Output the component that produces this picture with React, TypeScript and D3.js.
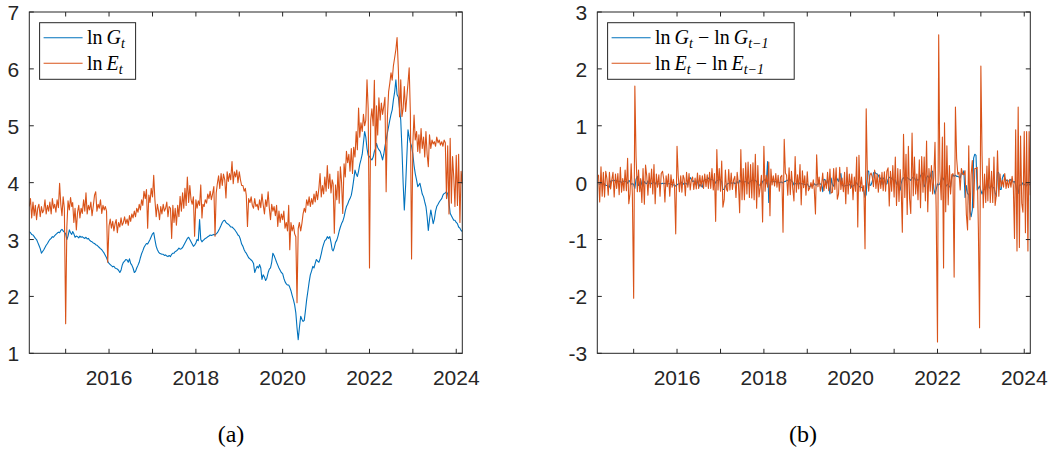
import React from "react";
import * as d3 from "d3";

// Sampling days inside each month (roughly every ten days)
const SAMPLE_DAYS = [1, 11, 21];
const START_YEAR = 2014;
const START_MONTH = 2; // March

// ln G_t, Mar 2014 .. Feb 2024, three samples per month
const lnG = [
  // 2014 (Mar-Dec)
  3.14, 3.12, 3.09, 3.08, 3.05, 3.02, 3.0, 2.95, 2.9, 2.84, 2.76, 2.79,
  2.82, 2.86, 2.9, 2.93, 2.97, 3.0, 3.02, 3.05, 3.04, 3.07, 3.09, 3.11,
  3.13, 3.12, 3.16, 3.18, 3.15, 3.13,
  // 2015
  3.1, 3.0, 3.06, 3.17, 3.12, 3.09, 3.14, 3.1, 3.04, 3.06, 3.05, 3.03,
  3.06, 3.04, 3.05, 3.03, 3.02, 3.04, 3.01, 3.02, 2.99, 2.97, 2.96, 2.94,
  2.93, 2.91, 2.9, 2.88, 2.86, 2.84, 2.82, 2.79, 2.76, 2.72, 2.68, 2.62,
  // 2016
  2.58, 2.56, 2.54, 2.52, 2.53, 2.5, 2.49, 2.48, 2.46, 2.42, 2.46, 2.55,
  2.6, 2.62, 2.65, 2.64, 2.6, 2.66, 2.58, 2.55, 2.5, 2.42, 2.44, 2.5,
  2.55, 2.6, 2.68, 2.75, 2.8, 2.86, 2.9, 2.93, 2.92, 2.96, 3.0, 3.05,
  // 2017
  3.1, 3.12, 3.0, 2.88, 2.82, 2.78, 2.76, 2.75, 2.74, 2.74, 2.72, 2.73,
  2.71, 2.7, 2.72, 2.7, 2.74, 2.76, 2.76, 2.79, 2.8, 2.82, 2.85, 2.83,
  2.84, 2.86, 2.9, 2.94, 2.98, 3.02, 3.04, 3.0, 2.96, 2.92, 2.88, 2.9,
  // 2018
  2.94, 3.0, 2.98, 3.35, 3.0, 2.96, 2.98, 3.0, 3.02, 3.03, 3.05, 3.06,
  3.08, 3.07, 3.08, 3.09, 3.08, 3.1, 3.12, 3.16, 3.2, 3.25, 3.3, 3.33,
  3.34, 3.3, 3.28, 3.27, 3.25, 3.22, 3.22, 3.2, 3.18, 3.15, 3.12, 3.08,
  // 2019
  3.06, 3.0, 2.92, 2.88, 2.82, 2.78, 2.76, 2.72, 2.68, 2.66, 2.64, 2.62,
  2.58, 2.42, 2.48, 2.53, 2.5, 2.56, 2.5, 2.3, 2.38, 2.34, 2.28, 2.32,
  2.42, 2.48, 2.5, 2.6, 2.76, 2.72, 2.66, 2.6, 2.55, 2.5, 2.46, 2.42,
  // 2020
  2.4, 2.32, 2.26, 2.22, 2.2, 2.2, 2.16, 2.1, 2.02, 1.94, 1.85, 1.71,
  1.45, 1.24, 1.45, 1.65, 1.6, 1.56, 1.58, 1.75, 1.94, 2.1, 2.25, 2.38,
  2.45, 2.53, 2.5, 2.58, 2.65, 2.62, 2.6, 2.66, 2.75, 2.85, 2.92, 2.98,
  // 2021
  3.0, 3.05, 3.02, 3.05, 2.95, 2.82, 2.8, 2.86, 2.95, 2.99, 3.06, 3.15,
  3.22, 3.28, 3.32, 3.4, 3.5, 3.58, 3.62, 3.68, 3.72, 3.78, 3.9, 4.05,
  4.22, 4.15, 4.11, 4.2, 4.32, 4.4, 4.5, 4.7, 4.9, 4.8, 4.6, 4.48,
  // 2022
  4.46, 4.42, 4.4, 4.45, 4.55, 4.6, 4.69, 4.62, 4.58, 4.55, 4.48, 4.4,
  4.5, 4.64, 4.75, 4.88, 4.99, 5.1, 5.2, 5.28, 5.45, 5.6, 5.81, 5.55,
  5.5, 5.3, 5.1, 4.6, 4.0, 3.52, 3.95, 4.45, 4.93, 4.8, 4.7, 4.64,
  // 2023
  4.5, 4.3, 4.16, 4.05, 3.93, 3.96, 3.99, 3.9, 3.8, 3.75, 3.66, 3.58,
  3.4, 3.16, 3.35, 3.52, 3.4, 3.28, 3.36, 3.5, 3.58, 3.62, 3.66, 3.69,
  3.72, 3.78, 3.81, 3.82, 3.84, 3.8, 3.65, 3.46, 3.42, 3.38, 3.34, 3.34,
  // 2024 (Jan-Feb)
  3.3, 3.28, 3.22, 3.2, 3.16, 3.14,
];

// ln E_t, same sampling
const lnE = [
  // 2014 (Mar-Dec)
  3.58, 3.72, 3.38, 3.66, 3.42, 3.6, 3.35, 3.55, 3.62, 3.4, 3.58, 3.47,
  3.52, 3.7, 3.45, 3.6, 3.5, 3.66, 3.45, 3.72, 3.55, 3.62, 3.48, 3.7,
  3.56, 3.99, 3.62, 3.42, 3.75, 3.55,
  // 2015
  1.52, 3.22, 3.68, 3.52, 3.74, 3.58, 3.65, 3.3, 3.55, 3.17, 3.48, 3.6,
  3.38, 3.55, 3.46, 3.7, 3.5, 3.82, 3.45, 3.6, 3.52, 3.66, 3.42, 3.58,
  3.78, 3.84, 3.5, 3.62, 3.55, 3.7, 3.46, 3.6, 3.52, 3.58, 3.5, 2.6,
  // 2016
  3.24, 3.36, 3.2, 3.32, 3.15, 3.28, 3.35, 3.12, 3.3, 3.22, 3.38, 3.25,
  3.3, 3.4, 3.28, 3.36, 3.25, 3.42, 3.32, 3.45, 3.38, 3.5, 3.4, 3.55,
  3.48, 3.62, 3.52, 3.7, 3.6, 3.85, 3.72, 3.88, 3.2, 3.78, 3.65, 3.9,
  // 2017
  3.75, 4.13, 3.7, 3.4, 3.62, 3.5, 3.35, 3.58, 3.45, 3.62, 3.5, 3.55,
  3.66, 3.4, 3.58, 3.55, 3.02, 3.6, 3.3, 3.55, 3.25, 3.6, 3.4, 3.76,
  3.5, 3.82, 3.55, 3.9, 3.6, 4.1, 3.65, 3.95, 3.7, 3.62, 3.75, 3.06,
  // 2018
  3.7, 3.55, 3.68, 3.6, 3.96, 3.38, 3.62, 3.58, 3.7, 3.64, 3.8, 3.72,
  3.85, 3.7, 3.8, 3.93, 3.06, 3.82, 3.99, 4.12, 3.9, 4.16, 3.95, 4.15,
  4.05, 3.73, 4.19, 4.02, 4.16, 4.05, 4.37, 3.98, 4.19, 4.1, 4.22, 4.0,
  // 2019
  4.19, 4.05, 3.95, 3.95, 3.85, 3.9, 3.78, 3.23, 3.72, 3.65, 3.75, 3.6,
  3.55, 3.72, 3.58, 3.62, 3.52, 3.7, 3.56, 3.8, 3.62, 3.45, 3.7, 3.58,
  3.84, 3.55, 3.35, 3.62, 3.5, 3.58, 3.42, 3.6, 3.23, 3.5, 3.3, 3.45,
  // 2020
  3.35, 3.5, 3.2, 3.3, 3.15, 3.6, 2.82, 3.3, 3.15, 3.25, 3.1, 3.05,
  1.89, 3.19, 3.3, 3.15, 3.28, 3.45, 3.55, 3.48, 3.7, 3.6, 3.75, 3.58,
  3.72, 3.62, 3.8, 3.66, 3.85, 3.7, 3.9, 4.16, 3.75, 3.95, 3.8, 4.1,
  // 2021
  3.85, 4.3, 3.9, 4.15, 3.82, 4.05, 3.98, 3.11, 3.96, 3.7, 4.2, 3.64,
  4.28, 4.0, 3.46, 4.33, 4.1, 4.55, 4.35, 4.5, 4.2, 4.6, 4.16, 4.62,
  4.45, 4.9, 4.58, 5.31, 4.8, 5.05, 4.9, 5.2, 5.0, 5.1, 5.81, 5.3,
  // 2022
  2.5, 5.1, 5.3, 5.0, 5.8, 4.3, 5.35, 4.84, 5.49, 5.1, 5.4, 5.2,
  5.34, 5.5, 3.84, 5.17, 5.6, 5.75, 5.93, 5.8, 6.05, 6.2, 6.34, 6.55,
  5.99, 5.16, 5.81, 5.16, 5.3, 5.69, 5.25, 5.5, 5.75, 6.02, 5.21, 2.66,
  // 2023
  4.71, 5.19, 4.75, 4.9, 4.55, 4.84, 4.52, 4.95, 4.6, 4.8, 4.45, 4.9,
  4.5, 4.28, 4.84, 4.6, 4.75, 4.68, 4.72, 4.64, 4.8, 4.7, 4.75, 4.66,
  4.72, 4.64, 4.75, 4.7, 3.72, 4.65, 3.45, 4.78, 3.64, 4.46, 4.1, 3.58,
  // 2024 (Jan-Feb)
  4.48, 3.6, 4.5, 3.3, 4.2, 3.98,
];

const levelTicks = [1, 2, 3, 4, 5, 6, 7];
const returnTicks = [-3, -2, -1, 0, 1, 2, 3];
const tickYears = [2015, 2016, 2017, 2018, 2019, 2020, 2021, 2022, 2023, 2024];
const labelYears = [2016, 2018, 2020, 2022, 2024];

const BLUE = "#0072BD";
const ORANGE = "#D95319";
const AXIS = "#262626";
const SANS = "'Liberation Sans', Arial, Helvetica, sans-serif";
const SERIF = "'Liberation Serif', 'Times New Roman', serif";

const dates = lnG.map(
  (_, i) => new Date(START_YEAR, START_MONTH + Math.floor(i / 3), SAMPLE_DAYS[i % 3])
);

type Pt = { d: Date; v: number };

const levelsG: Pt[] = lnG.map((v, i) => ({ d: dates[i], v }));
const levelsE: Pt[] = lnE.map((v, i) => ({ d: dates[i], v }));
const diff = (arr: number[]): Pt[] =>
  arr.slice(1).map((v, i) => ({ d: dates[i + 1], v: v - arr[i] }));
const returnsG = diff(lnG);
const returnsE = diff(lnE);

const PLOT_TOP = 12;
const PLOT_BOTTOM = 353.3;
const PLOT_W = 433;
const TICK = 4.5;
const TICK_FONT = 21;

type LegendPiece = { t: string; it?: boolean; sub?: boolean };

function LegendLabel({ x, y, pieces }: { x: number; y: number; pieces: LegendPiece[] }) {
  let prevSub = false;
  return (
    <text x={x} y={y} fontFamily={SERIF} fontSize={20} fill="#000">
      {pieces.map((p, k) => {
        const dy = p.sub && !prevSub ? 4 : !p.sub && prevSub ? -4 : 0;
        prevSub = !!p.sub;
        return (
          <tspan
            key={k}
            dy={dy}
            fontStyle={p.it ? "italic" : "normal"}
            fontSize={p.sub ? 14 : 20}
          >
            {p.t}
          </tspan>
        );
      })}
    </text>
  );
}

type PanelProps = {
  id: string;
  left: number;
  yDomain: [number, number];
  yTicks: number[];
  g: Pt[];
  e: Pt[];
  legendW: number;
  labelG: LegendPiece[];
  labelE: LegendPiece[];
  caption: string;
  captionX: number;
};

function Panel(p: PanelProps) {
  const x = d3
    .scaleTime()
    .domain([dates[0], dates[dates.length - 1]])
    .range([p.left, p.left + PLOT_W]);
  const y = d3.scaleLinear().domain(p.yDomain).range([PLOT_BOTTOM, PLOT_TOP]);
  const line = d3
    .line<Pt>()
    .x((d) => x(d.d))
    .y((d) => y(d.v));
  const right = p.left + PLOT_W;
  const lx = p.left + 10.3;
  const ly = 22.7;

  return (
    <g>
      <defs>
        <clipPath id={p.id}>
          <rect x={p.left} y={PLOT_TOP} width={PLOT_W} height={PLOT_BOTTOM - PLOT_TOP} />
        </clipPath>
      </defs>
      <g clipPath={`url(#${p.id})`} fill="none" strokeWidth={1.1} strokeLinejoin="round">
        <path d={line(p.g) || ""} stroke={BLUE} />
        <path d={line(p.e) || ""} stroke={ORANGE} />
      </g>

      {/* axes box */}
      <rect
        x={p.left}
        y={PLOT_TOP}
        width={PLOT_W}
        height={PLOT_BOTTOM - PLOT_TOP}
        fill="none"
        stroke={AXIS}
        strokeWidth={1}
      />
      {/* year ticks, top and bottom */}
      {tickYears.map((yr) => {
        const tx = x(new Date(yr, 0, 1));
        return (
          <g key={yr} stroke={AXIS} strokeWidth={1}>
            <line x1={tx} x2={tx} y1={PLOT_BOTTOM} y2={PLOT_BOTTOM - TICK} />
            <line x1={tx} x2={tx} y1={PLOT_TOP} y2={PLOT_TOP + TICK} />
          </g>
        );
      })}
      {labelYears.map((yr) => (
        <text
          key={yr}
          x={x(new Date(yr, 0, 1))}
          y={385}
          textAnchor="middle"
          fontFamily={SANS}
          fontSize={TICK_FONT}
          fill={AXIS}
        >
          {yr}
        </text>
      ))}
      {/* value ticks, left and right */}
      {p.yTicks.map((v) => {
        const ty = y(v);
        return (
          <g key={v}>
            <line x1={p.left} x2={p.left + TICK} y1={ty} y2={ty} stroke={AXIS} />
            <line x1={right} x2={right - TICK} y1={ty} y2={ty} stroke={AXIS} />
            <text
              x={p.left - 10}
              y={ty + 8}
              textAnchor="end"
              fontFamily={SANS}
              fontSize={TICK_FONT}
              fill={AXIS}
            >
              {v < 0 ? `-${Math.abs(v)}` : v}
            </text>
          </g>
        );
      })}

      {/* legend */}
      <rect x={lx} y={ly} width={p.legendW} height={56.6} fill="#fff" stroke={AXIS} strokeWidth={1} />
      <line x1={lx + 4} x2={lx + 43} y1={ly + 15} y2={ly + 15} stroke={BLUE} strokeWidth={1.1} />
      <line x1={lx + 4} x2={lx + 43} y1={ly + 40.6} y2={ly + 40.6} stroke={ORANGE} strokeWidth={1.1} />
      <LegendLabel x={lx + 47.4} y={ly + 21.6} pieces={p.labelG} />
      <LegendLabel x={lx + 47.4} y={ly + 47.3} pieces={p.labelE} />

      <text x={p.captionX} y={442} textAnchor="middle" fontFamily={SERIF} fontSize={24} fill="#000">
        ({p.caption})
      </text>
    </g>
  );
}

export default function App() {
  return (
    <svg
      width={1054}
      height={454}
      viewBox="0 0 1054 454"
      style={{ position: "absolute", left: 0, top: 0, background: "#fff" }}
    >
      <rect width={1054} height={454} fill="#fff" />
      <Panel
        id="clip-a"
        left={29.3}
        yDomain={[1, 7]}
        yTicks={levelTicks}
        g={levelsG}
        e={levelsE}
        legendW={96}
        labelG={[{ t: "ln\u2009" }, { t: "G", it: true }, { t: "t", it: true, sub: true }]}
        labelE={[{ t: "ln\u2009" }, { t: "E", it: true }, { t: "t", it: true, sub: true }]}
        caption="a"
        captionX={231}
      />
      <Panel
        id="clip-b"
        left={597.3}
        yDomain={[-3, 3]}
        yTicks={returnTicks}
        g={returnsG}
        e={returnsE}
        legendW={186.6}
        labelG={[
          { t: "ln\u2009" },
          { t: "G", it: true },
          { t: "t", it: true, sub: true },
          { t: " \u2212 ln\u2009" },
          { t: "G", it: true },
          { t: "t\u22121", it: true, sub: true },
        ]}
        labelE={[
          { t: "ln\u2009" },
          { t: "E", it: true },
          { t: "t", it: true, sub: true },
          { t: " \u2212 ln\u2009" },
          { t: "E", it: true },
          { t: "t\u22121", it: true, sub: true },
        ]}
        caption="b"
        captionX={803}
      />
    </svg>
  );
}
